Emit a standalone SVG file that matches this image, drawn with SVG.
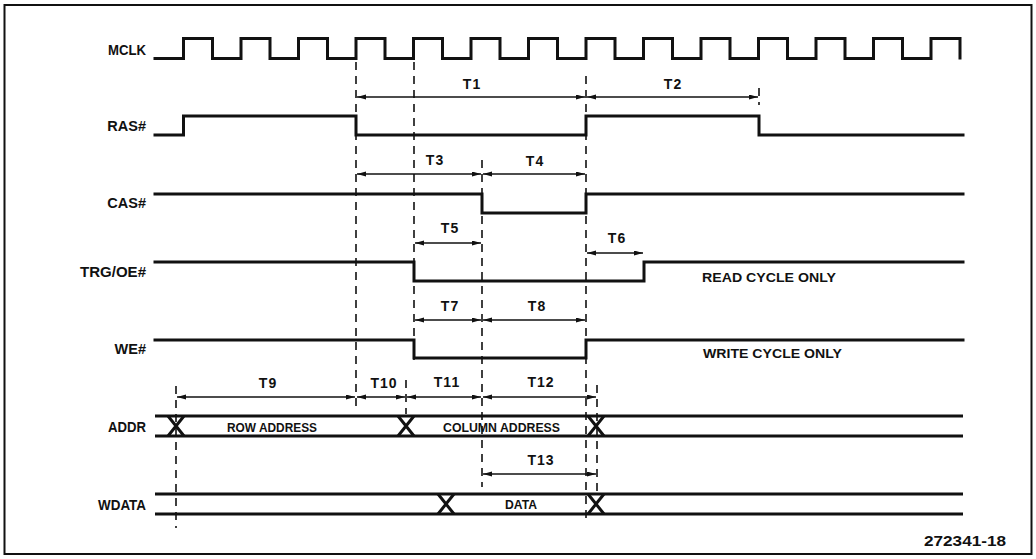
<svg xmlns="http://www.w3.org/2000/svg" width="1036" height="559" viewBox="0 0 1036 559">
<style>
.frame{fill:none;stroke:#111;stroke-width:2}
.sig{fill:none;stroke:#111;stroke-width:3;stroke-linejoin:miter;stroke-linecap:square}
.bus{fill:none;stroke:#111;stroke-width:3}
.x{fill:none;stroke:#111;stroke-width:3}
.dash{fill:none;stroke:#111;stroke-width:1.6;stroke-dasharray:8 6}
.dim{fill:none;stroke:#111;stroke-width:1.3;marker-start:url(#ah);marker-end:url(#ah)}
.lbl{font-family:"Liberation Sans",Arial,sans-serif;font-weight:bold;font-size:14.5px;fill:#111}
.t{font-family:"Liberation Sans",Arial,sans-serif;font-weight:bold;font-size:14px;fill:#111;text-anchor:middle;letter-spacing:1px}
.in{font-family:"Liberation Sans",Arial,sans-serif;font-weight:bold;font-size:13.5px;fill:#111}
</style>
<defs>
<marker id="ah" markerUnits="userSpaceOnUse" markerWidth="10" markerHeight="6" refX="9" refY="2.5" orient="auto-start-reverse">
<path d="M0,0 L9,2.5 L0,5 z" fill="#111"/>
</marker>
</defs>
<rect x="0" y="0" width="1036" height="559" fill="#fff"/>
<rect class="frame" x="4.5" y="5" width="1027" height="549"/>

<g id="mclk">
<text class="lbl" x="146" y="55" text-anchor="end" textLength="38" lengthAdjust="spacingAndGlyphs">MCLK</text>
<path class="sig" d="M155,58.5 H183.5 V38.5 H212.5 V58.5 H241 V38.5 H270 V58.5 H298.5 V38.5 H327.5 V58.5 H356 V38.5 H385 V58.5 H413.5 V38.5 H442.5 V58.5 H471 V38.5 H500 V58.5 H528.5 V38.5 H557.5 V58.5 H586 V38.5 H615 V58.5 H643.5 V38.5 H672.5 V58.5 H701 V38.5 H730 V58.5 H758.5 V38.5 H787.5 V58.5 H816 V38.5 H845 V58.5 H873.5 V38.5 H902.5 V58.5 H931 V38.5 H960 V58"/>
</g>

<g id="ras">
<text class="lbl" x="146" y="131" text-anchor="end">RAS#</text>
<path class="sig" d="M155,135 H183.5 V116 H356 V135 H586 V116 H759 V135 H963"/>
</g>

<g id="cas">
<text class="lbl" x="146" y="208" text-anchor="end">CAS#</text>
<path class="sig" d="M155,194 H482 V213 H586 V194 H963"/>
</g>

<g id="trg">
<text class="lbl" x="146" y="277" text-anchor="end" textLength="66" lengthAdjust="spacingAndGlyphs">TRG/OE#</text>
<path class="sig" d="M155,262 H414 V281 H644 V262 H963"/>
<text class="in" x="702" y="282" textLength="134" lengthAdjust="spacingAndGlyphs">READ CYCLE ONLY</text>
</g>

<g id="we">
<text class="lbl" x="146" y="354" text-anchor="end">WE#</text>
<path class="sig" d="M155,340 H414 V358 H586 V340 H963"/>
<text class="in" x="703" y="358" textLength="139" lengthAdjust="spacingAndGlyphs">WRITE CYCLE ONLY</text>
</g>

<g id="addr">
<text class="lbl" x="146" y="432" text-anchor="end" textLength="38" lengthAdjust="spacingAndGlyphs">ADDR</text>
<path class="bus" d="M155,416 H963 M155,436 H963"/>
<path class="x" d="M168,416 L184,436 M184,416 L168,436 M398,416 L414,436 M414,416 L398,436 M588,416 L604,436 M604,416 L588,436"/>
<text class="in" x="227" y="432" textLength="90" lengthAdjust="spacingAndGlyphs">ROW ADDRESS</text>
<text class="in" x="443" y="432" textLength="117" lengthAdjust="spacingAndGlyphs">COLUMN ADDRESS</text>
</g>

<g id="wdata">
<text class="lbl" x="146" y="510" text-anchor="end" textLength="48" lengthAdjust="spacingAndGlyphs">WDATA</text>
<path class="bus" d="M155,494 H963 M155,514 H963"/>
<path class="x" d="M438,494 L454,514 M454,494 L438,514 M588,494 L604,514 M604,494 L588,514"/>
<text class="in" x="505" y="509" textLength="32" lengthAdjust="spacingAndGlyphs">DATA</text>
</g>

<g id="connectors">
<path class="dash" d="M356,62 V407"/>
<path class="dash" d="M414,62 V360"/>
<path class="dash" d="M406,380 V414"/>
<path class="dash" d="M482,160 V487"/>
<path class="dash" d="M586,76 V524"/>
<path class="dash" d="M597,385 V492"/>
<path class="dash" d="M759,88 V105"/>
<path class="dash" d="M176,386 V528"/>

<path class="dim" d="M357,97 H585"/>
<path class="dim" d="M587,97 H758"/>
<path class="dim" d="M357,174 H481"/>
<path class="dim" d="M483,174 H585"/>
<path class="dim" d="M415,243 H481"/>
<path class="dim" d="M587,253 H643"/>
<path class="dim" d="M415,320 H481"/>
<path class="dim" d="M483,320 H585"/>
<path class="dim" d="M177,397 H355"/>
<path class="dim" d="M357,397 H405"/>
<path class="dim" d="M407,397 H481"/>
<path class="dim" d="M483,397 H596"/>
<path class="dim" d="M483,474 H596"/>
</g>

<g id="labels">
<text class="t" x="472" y="89">T1</text>
<text class="t" x="673" y="89">T2</text>
<text class="t" x="435" y="165">T3</text>
<text class="t" x="535" y="166">T4</text>
<text class="t" x="450" y="233">T5</text>
<text class="t" x="617" y="243">T6</text>
<text class="t" x="450" y="311">T7</text>
<text class="t" x="537" y="311">T8</text>
<text class="t" x="268" y="388">T9</text>
<text class="t" x="384" y="388">T10</text>
<text class="t" x="447" y="387">T11</text>
<text class="t" x="541" y="387">T12</text>
<text class="t" x="541" y="465">T13</text>
</g>

<text class="lbl" x="924" y="546" textLength="82" lengthAdjust="spacingAndGlyphs">272341-18</text>
</svg>
